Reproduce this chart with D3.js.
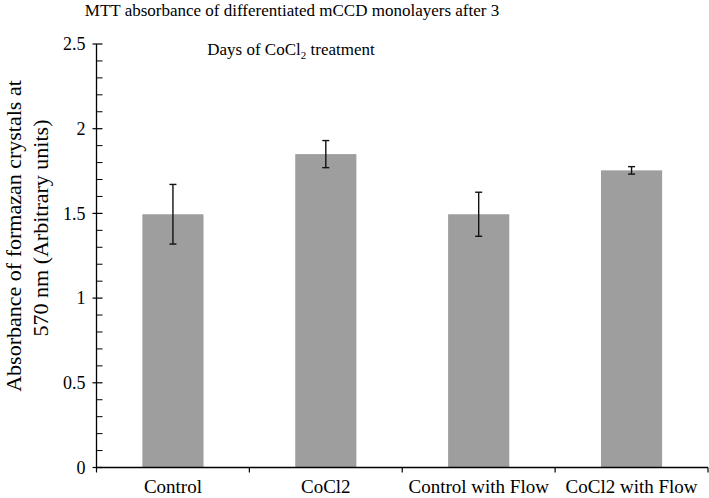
<!DOCTYPE html>
<html>
<head>
<meta charset="utf-8">
<script src="https://cdn.jsdelivr.net/npm/d3@7"></script>
<style>
  body { margin: 0; background: #fff; }
  text { font-family: "Liberation Serif", "Times New Roman", serif; fill: #000; }
</style>
</head>
<body>
<svg id="chart"></svg>
<script>
// data
const categories = ["Control", "CoCl2", "Control with Flow", "CoCl2 with Flow"];
const means = [1.495, 1.85, 1.495, 1.754];
const errors = [0.176, 0.08, 0.13, 0.022];
const yTicks = [0, 0.5, 1, 1.5, 2, 2.5];

const width = 709, height = 498;
const svg = d3.select('#chart')
  .attr('width', width)
  .attr('height', height);

// plot area
const x0 = 96.5, x1 = 708, yTop = 44, yBottom = 467.5;

const y = d3.scaleLinear()
  .domain([0, 2.5])
  .range([yBottom, yTop]);

const x = d3.scaleBand()
  .domain(categories)
  .range([x0, x1])
  .paddingInner(0.6)
  .paddingOuter(0.3);

// category boundaries for the x tick marks
const xEdge = d3.scaleLinear()
  .domain([0, categories.length])
  .range([x0, x1]);

// bars
svg.append('g')
  .selectAll('rect')
  .data(categories)
  .join('rect')
  .attr('x', d => x(d))
  .attr('width', x.bandwidth())
  .attr('y', (d, i) => y(means[i]))
  .attr('height', (d, i) => y(0) - y(means[i]))
  .attr('fill', '#9e9e9e');

// error bars
const eb = svg.append('g')
  .attr('stroke', '#111')
  .attr('stroke-width', 1.4);
categories.forEach((c, i) => {
  const cx = x(c) + x.bandwidth() / 2;
  const hi = y(means[i] + errors[i]), lo = y(means[i] - errors[i]);
  eb.append('line').attr('x1', cx).attr('x2', cx).attr('y1', hi).attr('y2', lo);
  eb.append('line').attr('x1', cx - 3.5).attr('x2', cx + 3.5).attr('y1', hi).attr('y2', hi);
  eb.append('line').attr('x1', cx - 3.5).attr('x2', cx + 3.5).attr('y1', lo).attr('y2', lo);
});

// y axis: minor ticks inside
const minor = d3.range(0, 2.51, 0.1).filter(v => Math.abs(v * 2 - Math.round(v * 2)) > 1e-6);
const yAxisG = svg.append('g').attr('transform', `translate(${x0},0)`);
yAxisG.append('line')
  .attr('x1', 0).attr('x2', 0)
  .attr('y1', y(2.5)).attr('y2', y(0))
  .attr('stroke', '#000').attr('stroke-width', 1.3);
yAxisG.selectAll('.minor')
  .data(minor)
  .join('line')
  .attr('class', 'minor')
  .attr('x1', 0).attr('x2', 6)
  .attr('y1', d => y(d)).attr('y2', d => y(d))
  .attr('stroke', '#000').attr('stroke-width', 1);
yAxisG.selectAll('.major')
  .data(yTicks)
  .join('line')
  .attr('class', 'major')
  .attr('x1', -4).attr('x2', 6)
  .attr('y1', d => y(d)).attr('y2', d => y(d))
  .attr('stroke', '#000').attr('stroke-width', 1.2);
yAxisG.selectAll('.ylab')
  .data(yTicks)
  .join('text')
  .attr('class', 'ylab')
  .attr('x', -11)
  .attr('y', d => y(d))
  .attr('dy', '0.35em')
  .attr('text-anchor', 'end')
  .style('font-size', '18px')
  .text(d => d);

// x axis
const xAxisG = svg.append('g').attr('transform', `translate(0,${yBottom})`);
xAxisG.append('line')
  .attr('x1', x0).attr('x2', x1)
  .attr('stroke', '#000').attr('stroke-width', 1.3);
xAxisG.selectAll('.xtick')
  .data(d3.range(categories.length + 1))
  .join('line')
  .attr('class', 'xtick')
  .attr('x1', d => xEdge(d)).attr('x2', d => xEdge(d))
  .attr('y1', 0).attr('y2', 5)
  .attr('stroke', '#000').attr('stroke-width', 1.2);
xAxisG.selectAll('.xlab')
  .data(categories)
  .join('text')
  .attr('class', 'xlab')
  .attr('x', d => x(d) + x.bandwidth() / 2)
  .attr('y', 25.5)
  .attr('text-anchor', 'middle')
  .style('font-size', '19px')
  .text(d => d);

// title
const title = svg.append('g').style('font-size', '17px');
title.append('text')
  .attr('x', 292).attr('y', 16)
  .attr('text-anchor', 'middle')
  .text('MTT absorbance of differentiated mCCD monolayers after 3');
const t2 = title.append('text')
  .attr('x', 291).attr('y', 55)
  .attr('text-anchor', 'middle');
t2.append('tspan').text('Days of CoCl');
t2.append('tspan').attr('dy', 4).style('font-size', '11px').text('2');
t2.append('tspan').attr('dy', -4).text(' treatment');

// y axis title
const yTitle = svg.append('g')
  .attr('transform', 'rotate(-90)')
  .style('font-size', '22px');
yTitle.append('text')
  .attr('x', -236).attr('y', 21)
  .attr('text-anchor', 'middle')
  .text('Absorbance of formazan crystals at');
yTitle.append('text')
  .attr('x', -228).attr('y', 48)
  .attr('text-anchor', 'middle')
  .text('570 nm (Arbitrary units)');
</script>
</body>
</html>
